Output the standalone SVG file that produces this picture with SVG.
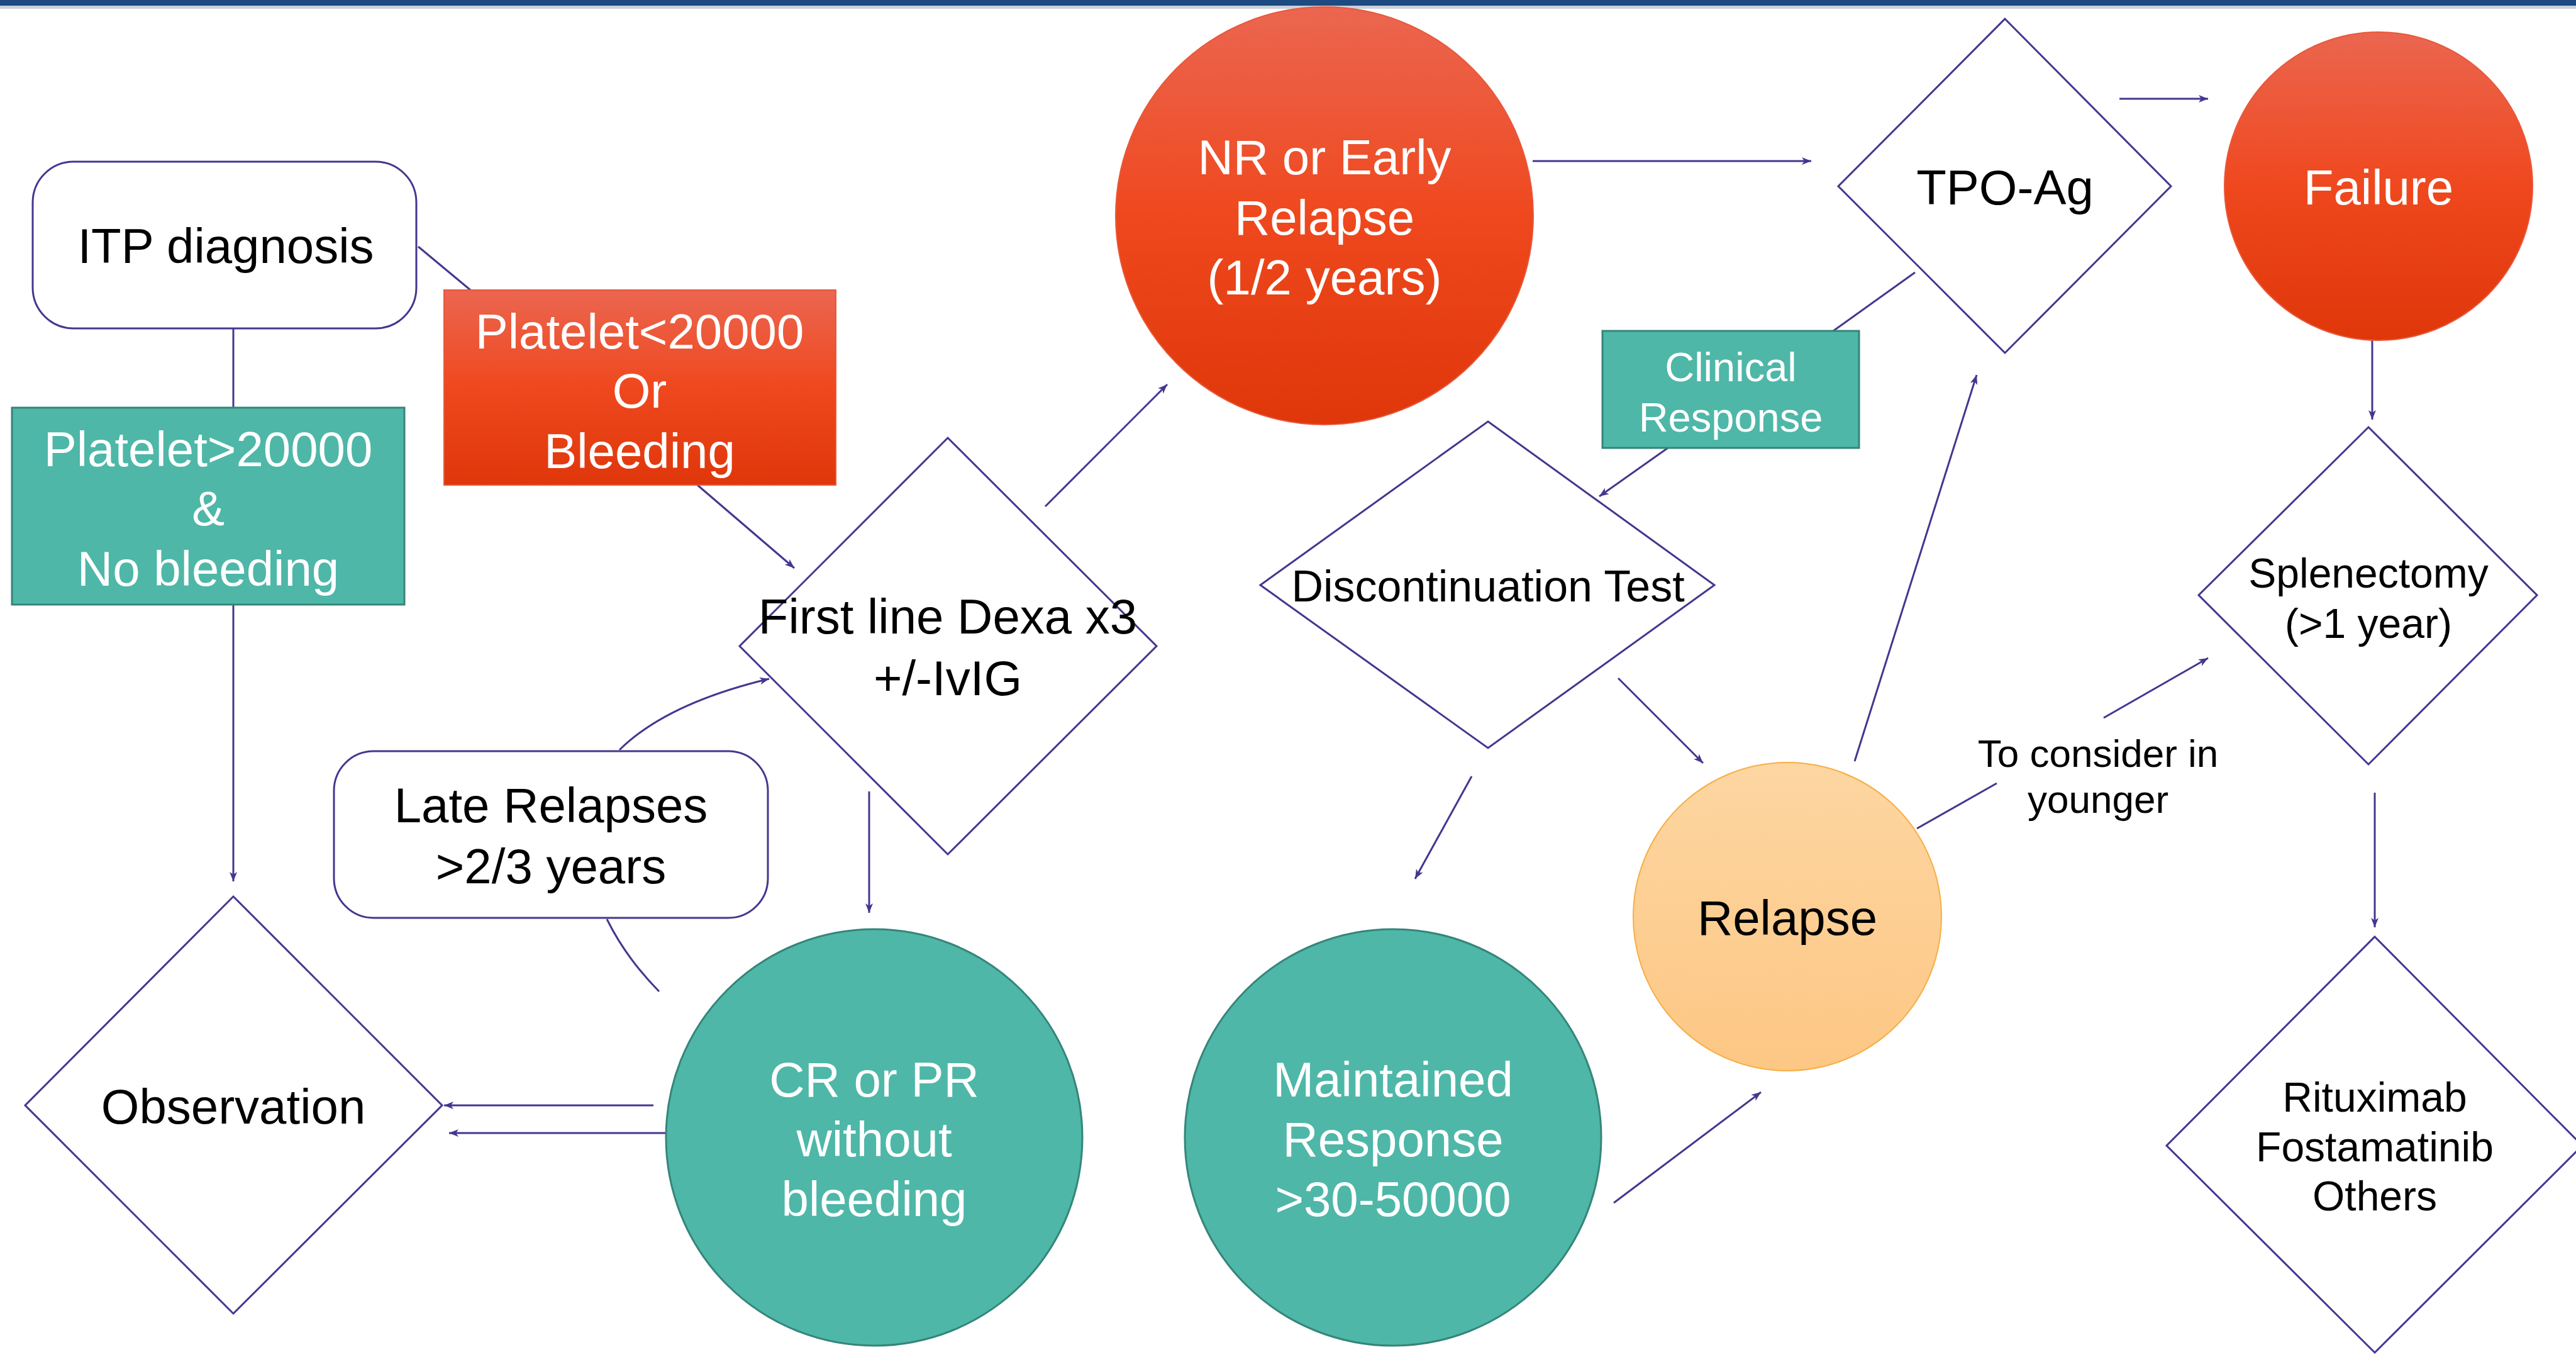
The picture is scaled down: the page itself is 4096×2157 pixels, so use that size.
<svg xmlns="http://www.w3.org/2000/svg" width="4096" height="2157" viewBox="0 0 4096 2157">
<defs>
<linearGradient id="red" x1="0" y1="0" x2="0" y2="1">
<stop offset="0" stop-color="#EB6650"/>
<stop offset="0.5" stop-color="#EF481E"/>
<stop offset="1" stop-color="#DF370A"/>
</linearGradient>
<linearGradient id="orange" x1="0" y1="0" x2="0" y2="1">
<stop offset="0" stop-color="#FDD6A2"/>
<stop offset="1" stop-color="#FDC784"/>
</linearGradient>
<marker id="arr" markerUnits="userSpaceOnUse" markerWidth="18" markerHeight="14" refX="15" refY="6" orient="auto">
<path d="M0,0 L15,6 L0,12 L4,6 Z" fill="#45368F"/>
</marker>
</defs>
<style>
.ln{stroke:#45368F;stroke-width:3;fill:none}
.ar{marker-end:url(#arr)}
.dia{fill:#FFFFFF;stroke:#45368F;stroke-width:3}
.rr{fill:#FFFFFF;stroke:#45368F;stroke-width:3}
.teal{fill:#4EB7A8;stroke:#35857A;stroke-width:3}
.redf{fill:url(#red);stroke:#E8583A;stroke-width:2}
.t{font-family:"Liberation Sans",Arial,sans-serif;text-anchor:middle;font-size:78px;fill:#000000}
.w{fill:#FFFFFF}
</style>
<rect width="4096" height="2157" fill="#FFFFFF"/>
<rect x="0" y="0" width="4096" height="9" fill="#1D4A80"/>
<rect x="0" y="9" width="4096" height="5" fill="#A8B3C4" opacity="0.6"/>

<g id="connectors">
<line class="ln" x1="371" y1="522" x2="371" y2="648"/>
<line class="ln ar" x1="371" y1="962" x2="371" y2="1401"/>
<line class="ln" x1="665" y1="392" x2="748" y2="461"/>
<line class="ln ar" x1="1109" y1="771" x2="1263" y2="903"/>
<line class="ln ar" x1="1662" y1="805" x2="1856" y2="611"/>
<line class="ln ar" x1="2437" y1="256" x2="2880" y2="256"/>
<line class="ln ar" x1="3370" y1="157" x2="3511" y2="157"/>
<line class="ln ar" x1="3772" y1="511" x2="3772" y2="667"/>
<line class="ln" x1="3045" y1="433" x2="2915" y2="526"/>
<line class="ln ar" x1="2652" y1="712" x2="2543" y2="789"/>
<line class="ln ar" x1="2340" y1="1234" x2="2250" y2="1397"/>
<line class="ln ar" x1="2573" y1="1078" x2="2708" y2="1213"/>
<line class="ln ar" x1="1382" y1="1258" x2="1382" y2="1451"/>
<line class="ln ar" x1="1039" y1="1757" x2="706" y2="1757"/>
<line class="ln ar" x1="1059" y1="1801" x2="714" y2="1801"/>
<path class="ln ar" d="M985,1192 Q1060,1118 1223,1079"/>
<path class="ln" d="M965,1461 Q995,1522 1048,1576"/>
<line class="ln ar" x1="2566" y1="1912" x2="2800" y2="1736"/>
<line class="ln ar" x1="2949" y1="1210" x2="3143" y2="596"/>
<line class="ln" x1="3048" y1="1317" x2="3175" y2="1245"/>
<line class="ln ar" x1="3345" y1="1141" x2="3511" y2="1046"/>
<line class="ln ar" x1="3776" y1="1260" x2="3776" y2="1474"/>
</g>

<g id="itp">
<rect class="rr" x="52" y="257" width="610" height="265" rx="65" ry="65"/>
<text class="t" x="359" y="418">ITP diagnosis</text>
</g>

<g id="platelet-low">
<rect class="redf" x="706" y="461" width="623" height="310"/>
<text class="t w" x="1017" y="554">Platelet&lt;20000</text>
<text class="t w" x="1017" y="648">Or</text>
<text class="t w" x="1017" y="744">Bleeding</text>
</g>

<g id="platelet-high">
<rect class="teal" x="19" y="648" width="624" height="313"/>
<text class="t w" x="331" y="741">Platelet&gt;20000</text>
<text class="t w" x="331" y="835">&amp;</text>
<text class="t w" x="331" y="931">No bleeding</text>
</g>

<g id="observation">
<polygon class="dia" points="371,1425 703,1757 371,2088 40,1757"/>
<text class="t" x="371" y="1786">Observation</text>
</g>

<g id="late-relapses">
<rect class="rr" x="531" y="1194" width="690" height="265" rx="63" ry="63"/>
<text class="t" x="876" y="1307">Late Relapses</text>
<text class="t" x="876" y="1404">&gt;2/3 years</text>
</g>

<g id="first-line">
<polygon class="dia" points="1507,696 1839,1027 1507,1358 1176,1027"/>
<text class="t" x="1507" y="1007">First line Dexa x3</text>
<text class="t" x="1507" y="1105">+/-IvIG</text>
</g>

<g id="cr-pr">
<circle class="teal" cx="1390" cy="1808" r="331"/>
<text class="t w" x="1390" y="1743">CR or PR</text>
<text class="t w" x="1390" y="1838">without</text>
<text class="t w" x="1390" y="1933">bleeding</text>
</g>

<g id="maintained">
<circle class="teal" cx="2215" cy="1808" r="331"/>
<text class="t w" x="2215" y="1743">Maintained</text>
<text class="t w" x="2215" y="1838">Response</text>
<text class="t w" x="2215" y="1933">&gt;30-50000</text>
</g>

<g id="nr-early">
<circle class="redf" cx="2106" cy="343" r="332"/>
<text class="t w" x="2106" y="277">NR or Early</text>
<text class="t w" x="2106" y="373">Relapse</text>
<text class="t w" x="2106" y="468">(1/2 years)</text>
</g>

<g id="discontinuation">
<polygon class="dia" points="2366,670 2726,930 2366,1189 2004,930"/>
<text class="t" x="2366" y="956" style="font-size:70px">Discontinuation Test</text>
</g>

<g id="clinical-response">
<rect class="teal" x="2548" y="526" width="408" height="186"/>
<text class="t w" x="2752" y="606" style="font-size:65px">Clinical</text>
<text class="t w" x="2752" y="686" style="font-size:65px">Response</text>
</g>

<g id="tpo">
<polygon class="dia" points="3188,30 3452,296 3188,561 2923,296"/>
<text class="t" x="3188" y="325">TPO-Ag</text>
</g>

<g id="failure">
<circle class="redf" cx="3782" cy="296" r="245"/>
<text class="t w" x="3782" y="325">Failure</text>
</g>

<g id="relapse">
<circle cx="2842" cy="1457" r="245" fill="url(#orange)" stroke="#F7AE45" stroke-width="2"/>
<text class="t" x="2842" y="1486">Relapse</text>
</g>

<g id="consider-label">
<text class="t" x="3336" y="1219" style="font-size:62px">To consider in</text>
<text class="t" x="3336" y="1292" style="font-size:62px">younger</text>
</g>

<g id="splenectomy">
<polygon class="dia" points="3766,679 4034,946 3766,1215 3496,946"/>
<text class="t" x="3766" y="934" style="font-size:66px">Splenectomy</text>
<text class="t" x="3766" y="1014" style="font-size:66px">(&gt;1 year)</text>
</g>

<g id="rituximab">
<polygon class="dia" points="3776,1489 4106,1821 3776,2150 3445,1821"/>
<text class="t" x="3776" y="1767" style="font-size:66px">Rituximab</text>
<text class="t" x="3776" y="1846" style="font-size:66px">Fostamatinib</text>
<text class="t" x="3776" y="1924" style="font-size:66px">Others</text>
</g>
</svg>
